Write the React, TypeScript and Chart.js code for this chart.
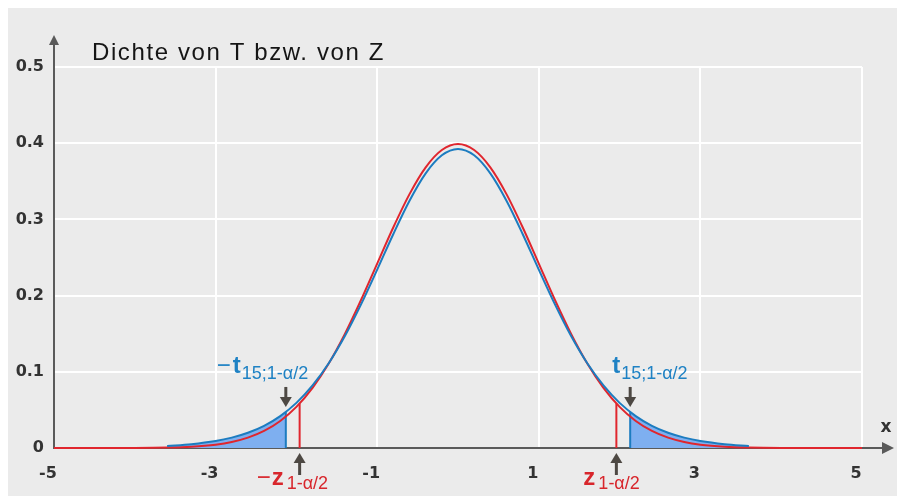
import { useEffect, useRef } from 'react';
import { Chart, registerables } from 'chart.js';

Chart.register(...registerables);

// ---- data ----
const titleText = 'Dichte von T bzw. von Z';
const xAxisLabel = 'x';
const xTicks = [-5, -3, -1, 1, 3, 5];
const yTicks = [0, 0.1, 0.2, 0.3, 0.4, 0.5];

// standard normal density (red)
const zX = [-5, -4.5, -4, -3.6, -3.3, -3, -2.8, -2.6, -2.4, -2.2, -2, -1.8, -1.6, -1.4, -1.2, -1, -0.8, -0.6, -0.4, -0.2, 0,
  0.2, 0.4, 0.6, 0.8, 1, 1.2, 1.4, 1.6, 1.8, 2, 2.2, 2.4, 2.6, 2.8, 3, 3.3, 3.6, 4, 4.5, 5];
const zDensity = [0, 0, 0.0001, 0.0006, 0.0017, 0.0044, 0.0079, 0.0136, 0.0224, 0.0355, 0.054, 0.079, 0.1109, 0.1497, 0.1942, 0.242, 0.2897, 0.3332, 0.3683, 0.391, 0.3989,
  0.391, 0.3683, 0.3332, 0.2897, 0.242, 0.1942, 0.1497, 0.1109, 0.079, 0.054, 0.0355, 0.0224, 0.0136, 0.0079, 0.0044, 0.0017, 0.0006, 0.0001, 0, 0];

// t density with 15 degrees of freedom (blue)
const tX = [-3.6, -3.3, -3, -2.8, -2.6, -2.4, -2.2, -2, -1.8, -1.6, -1.4, -1.2, -1, -0.8, -0.6, -0.4, -0.2, 0,
  0.2, 0.4, 0.6, 0.8, 1, 1.2, 1.4, 1.6, 1.8, 2, 2.2, 2.4, 2.6, 2.8, 3, 3.3, 3.6];
const tDensity = [0.0027, 0.005, 0.0091, 0.0136, 0.02, 0.0291, 0.0419, 0.0592, 0.0821, 0.1112, 0.1469, 0.1885, 0.2341, 0.2809, 0.3245, 0.3604, 0.3841, 0.3924,
  0.3841, 0.3604, 0.3245, 0.2809, 0.2341, 0.1885, 0.1469, 0.1112, 0.0821, 0.0592, 0.0419, 0.0291, 0.02, 0.0136, 0.0091, 0.005, 0.0027];

const tCrit = 2.131;
const tCritDensity = 0.0473;
const zCrit = 1.96;
const zCritDensity = 0.0584;

const tLabelMain = 't';
const tLabelSub = '15;1-\u03b1/2';
const zLabelMain = 'z';
const zLabelSub = '1-\u03b1/2';
const minusSign = '\u2212';

// ---- styles ----
const BG = '#ebebeb';
const RED = '#e0262e';
const BLUE = '#1c7cc0';
const FILL = '#7eaff0';
const AXIS = '#5a5a5a';
const ARROW = '#4d4843';
const BLUE_TEXT = '#1f82c4';
const RED_TEXT = '#d8262c';
const TICK_FONT = { family: 'DejaVu Sans', size: 16, weight: 'bold' as const };

function pts(xs: number[], ys: number[]) {
  return xs.map((x, i) => ({ x, y: ys[i] }));
}

function tail(side: number) {
  const arr = pts(tX, tDensity).filter(p => side * p.x > tCrit);
  const crit = { x: side * tCrit, y: tCritDensity };
  return side < 0 ? [...arr, crit] : [crit, ...arr];
}

function drawArrow(ctx: CanvasRenderingContext2D, x: number, tip: number, tail: number) {
  const dir = tail > tip ? 1 : -1; // 1: arrow points up
  const headH = 9;
  ctx.save();
  ctx.fillStyle = ARROW;
  ctx.strokeStyle = ARROW;
  ctx.lineWidth = 3;
  ctx.beginPath();
  ctx.moveTo(x, tail);
  ctx.lineTo(x, tip + dir * headH);
  ctx.stroke();
  ctx.beginPath();
  ctx.moveTo(x, tip);
  ctx.lineTo(x - 6, tip + dir * (headH + 1));
  ctx.lineTo(x + 6, tip + dir * (headH + 1));
  ctx.closePath();
  ctx.fill();
  ctx.restore();
}

function drawSubLabel(ctx: CanvasRenderingContext2D, x: number, base: number, parts: { t: string; font: string; dy: number; gap?: number }[], color: string) {
  ctx.save();
  ctx.fillStyle = color;
  ctx.textAlign = 'left';
  ctx.textBaseline = 'alphabetic';
  let cx = x;
  for (const p of parts) {
    ctx.font = p.font;
    ctx.fillText(p.t, cx, base + p.dy);
    cx += ctx.measureText(p.t).width + (p.gap || 0);
  }
  ctx.restore();
}

const decorPlugin = {
  id: 'decor',
  beforeDraw(chart: any) {
    const { ctx, width, height } = chart;
    ctx.save();
    ctx.fillStyle = BG;
    ctx.fillRect(0, 0, width, height);
    ctx.restore();
  },
  beforeDatasetsDraw(chart: any) {
    const { ctx, scales, chartArea } = chart;
    const x0 = scales.x.getPixelForValue(-5);
    const y0 = scales.y.getPixelForValue(0);
    ctx.save();
    ctx.strokeStyle = AXIS;
    ctx.fillStyle = AXIS;
    ctx.lineWidth = 2;
    // y axis with arrow
    const yTip = chartArea.top - 32;
    ctx.beginPath();
    ctx.moveTo(x0, y0 + 1);
    ctx.lineTo(x0, yTip + 8);
    ctx.stroke();
    ctx.beginPath();
    ctx.moveTo(x0, yTip);
    ctx.lineTo(x0 - 5, yTip + 10);
    ctx.lineTo(x0 + 5, yTip + 10);
    ctx.closePath();
    ctx.fill();
    // x axis with arrow
    const xTip = chartArea.right + 32;
    ctx.beginPath();
    ctx.moveTo(x0, y0);
    ctx.lineTo(xTip - 10, y0);
    ctx.stroke();
    ctx.beginPath();
    ctx.moveTo(xTip, y0);
    ctx.lineTo(xTip - 12, y0 - 6);
    ctx.lineTo(xTip - 12, y0 + 6);
    ctx.closePath();
    ctx.fill();
    ctx.restore();
  },
  afterDatasetsDraw(chart: any) {
    const { ctx, scales, chartArea } = chart;
    const xs = scales.x;
    const ys = scales.y;
    const y0 = ys.getPixelForValue(0);
    // title
    ctx.save();
    ctx.fillStyle = '#151515';
    ctx.font = '24px "Liberation Sans", Arial, sans-serif';
    (ctx as any).letterSpacing = '1.6px';
    ctx.textBaseline = 'alphabetic';
    ctx.fillText(titleText, chartArea.left + 38, chartArea.top - 7);
    ctx.restore();
    // x label
    ctx.save();
    ctx.fillStyle = '#333';
    ctx.font = 'bold 17px "DejaVu Sans"';
    ctx.textAlign = 'center';
    ctx.textBaseline = 'middle';
    ctx.fillText(xAxisLabel, chartArea.right + 24, y0 - 20);
    ctx.restore();

    const mainFont = 'bold 24px "Liberation Sans", Arial, sans-serif';
    const minusFont = '24px "Liberation Sans", Arial, sans-serif';
    const subFont = '18px "Liberation Sans", Arial, sans-serif';

    // t arrows (pointing down to curve)
    const ltx = xs.getPixelForValue(-tCrit);
    const rtx = xs.getPixelForValue(tCrit);
    const tTip = ys.getPixelForValue(tCritDensity) - 5;
    drawArrow(ctx, ltx, tTip, tTip - 20);
    drawArrow(ctx, rtx, tTip, tTip - 20);
    drawSubLabel(ctx, ltx - 69, y0 - 75, [
      { t: minusSign, font: minusFont, dy: 0, gap: 2 },
      { t: tLabelMain, font: mainFont, dy: 0, gap: 1 },
      { t: tLabelSub, font: subFont, dy: 6 },
    ], BLUE_TEXT);
    drawSubLabel(ctx, rtx - 18, y0 - 75, [
      { t: tLabelMain, font: mainFont, dy: 0, gap: 1 },
      { t: tLabelSub, font: subFont, dy: 6 },
    ], BLUE_TEXT);

    // z arrows (pointing up from below the axis)
    const lzx = xs.getPixelForValue(-zCrit);
    const rzx = xs.getPixelForValue(zCrit);
    drawArrow(ctx, lzx, y0 + 5, y0 + 27);
    drawArrow(ctx, rzx, y0 + 5, y0 + 27);
    drawSubLabel(ctx, lzx - 43, y0 + 37, [
      { t: minusSign, font: minusFont, dy: 0, gap: 1 },
      { t: zLabelMain, font: mainFont, dy: 0, gap: 3 },
      { t: zLabelSub, font: subFont, dy: 4 },
    ], RED_TEXT);
    drawSubLabel(ctx, rzx - 33, y0 + 37, [
      { t: zLabelMain, font: mainFont, dy: 0, gap: 3 },
      { t: zLabelSub, font: subFont, dy: 4 },
    ], RED_TEXT);
  },
};

export default function App() {
  const ref = useRef<HTMLCanvasElement>(null);
  useEffect(() => {
    if (!ref.current) return;
    const line = { pointRadius: 0, borderWidth: 2, fill: false, clip: false as const, cubicInterpolationMode: 'monotone' as const };
    const chart = new Chart(ref.current, {
      type: 'line',
      data: {
        datasets: [
          { ...line, label: 't15', data: pts(tX, tDensity), borderColor: BLUE, order: 1 },
          { ...line, label: 'z', data: pts(zX, zDensity), borderColor: RED, order: 2 },
          { ...line, label: 'tl', data: [{ x: -tCrit, y: 0 }, { x: -tCrit, y: tCritDensity }], borderColor: BLUE, order: 3 },
          { ...line, label: 'tr', data: [{ x: tCrit, y: 0 }, { x: tCrit, y: tCritDensity }], borderColor: BLUE, order: 3 },
          { ...line, label: 'zl', data: [{ x: -zCrit, y: 0 }, { x: -zCrit, y: zCritDensity }], borderColor: RED, order: 3 },
          { ...line, label: 'zr', data: [{ x: zCrit, y: 0 }, { x: zCrit, y: zCritDensity }], borderColor: RED, order: 3 },
          { ...line, label: 'fl', data: tail(-1), borderWidth: 0, borderColor: 'rgba(0,0,0,0)', backgroundColor: FILL, fill: 'origin', order: 5 },
          { ...line, label: 'fr', data: tail(1), borderWidth: 0, borderColor: 'rgba(0,0,0,0)', backgroundColor: FILL, fill: 'origin', order: 5 },
        ],
      },
      options: {
        responsive: false,
        animation: false,
        events: [],
        layout: { padding: { top: 59, right: 35, left: 0, bottom: 0 } },
        plugins: { legend: { display: false }, tooltip: { enabled: false }, title: { display: false } },
        scales: {
          x: {
            type: 'linear',
            min: -5,
            max: 5,
            afterBuildTicks: (s: any) => { s.ticks = xTicks.map(v => ({ value: v })); },
            afterFit: (s: any) => { s.height = 48; },
            ticks: { font: TICK_FONT, color: '#333', padding: 16, labelOffset: -6, maxRotation: 0, autoSkip: false, callback: (v: any) => String(v) },
            grid: { color: '#ffffff', lineWidth: 2, drawTicks: false },
            border: { display: false },
          },
          y: {
            type: 'linear',
            min: 0,
            max: 0.5,
            afterBuildTicks: (s: any) => { s.ticks = yTicks.map(v => ({ value: v })); },
            afterFit: (s: any) => { s.width = 46; },
            ticks: { font: TICK_FONT, color: '#333', padding: 10, autoSkip: false, callback: (v: any) => (v === 0 ? '0' : Number(v).toFixed(1)) },
            grid: { color: '#ffffff', lineWidth: 2, drawTicks: false },
            border: { display: false },
          },
        },
      },
      plugins: [decorPlugin],
    });
    return () => chart.destroy();
  }, []);
  return (
    <div style={{ position: 'fixed', left: 8, top: 8, width: 889, height: 488 }}>
      <canvas ref={ref} width={889} height={488} style={{ display: 'block' }} />
    </div>
  );
}
